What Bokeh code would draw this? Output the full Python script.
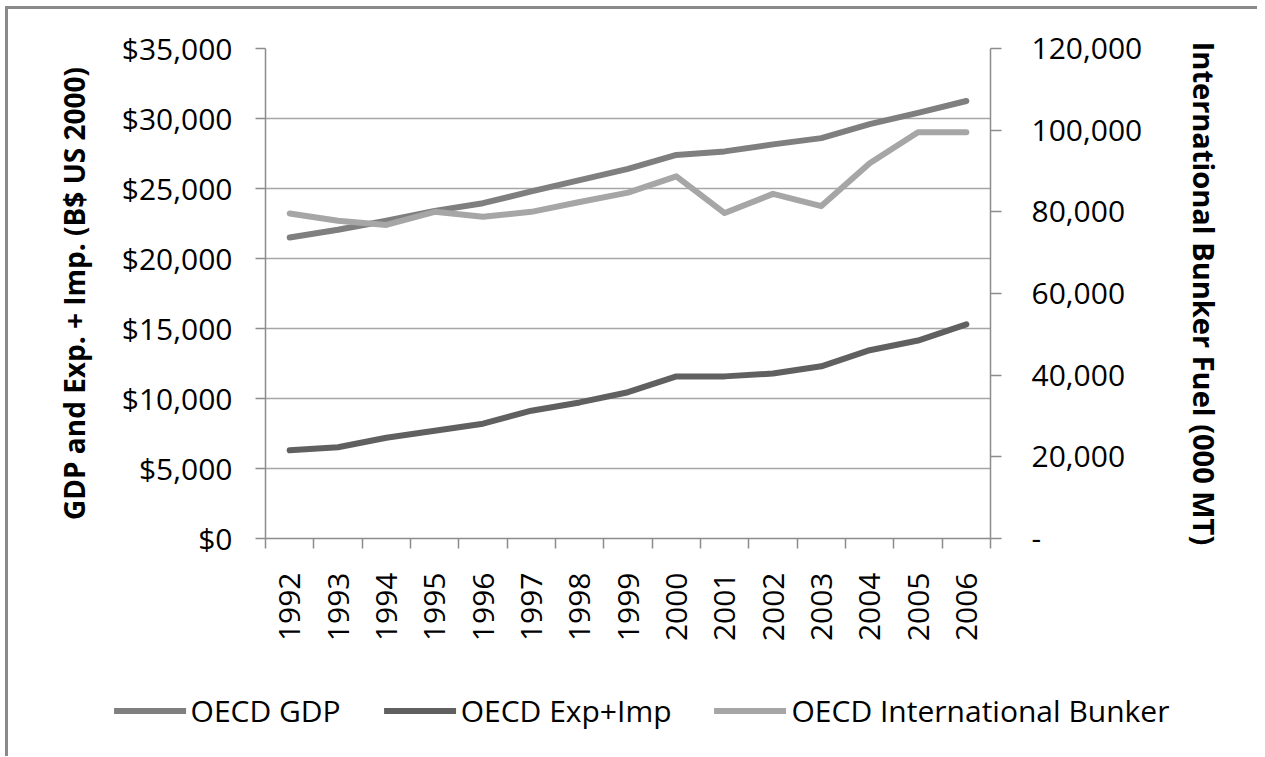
import math
from bokeh.plotting import figure
from bokeh.models import (Range1d, LinearAxis, FixedTicker, NumeralTickFormatter,
                          Legend, LegendItem)
from bokeh.embed import file_html
from bokeh.resources import INLINE

# ---- data ----
years = ["1992", "1993", "1994", "1995", "1996", "1997", "1998", "1999",
         "2000", "2001", "2002", "2003", "2004", "2005", "2006"]
gdp = [21500, 22050, 22700, 23400, 23950, 24800, 25600, 26400,
       27400, 27650, 28150, 28600, 29600, 30400, 31250]
exp_imp = [6300, 6520, 7200, 7700, 8200, 9130, 9720, 10450,
           11580, 11580, 11780, 12300, 13450, 14140, 15300]
bunker = [79600, 77800, 76800, 80000, 78800, 80000, 82400, 84700,
          88700, 79700, 84400, 81400, 91900, 99500, 99500]
left_ticks = [0, 5000, 10000, 15000, 20000, 25000, 30000, 35000]
right_ticks = [0, 20000, 40000, 60000, 80000, 100000, 120000]
series_names = ["OECD GDP", "OECD Exp+Imp", "OECD International Bunker"]
series_colors = ["#7f7f7f", "#606060", "#a6a6a6"]

FONT = "Open Sans"
AXIS_GRAY = "#8c8c8c"
GRID_GRAY = "#a6a6a6"
BORDER = "3px solid #8a8a8a"
TICK_SIZE = "30px"

x = list(range(len(years)))

p = figure(width=1249, height=671, frame_width=725, frame_height=490,
           min_border_left=257, min_border_top=39, min_border_right=267,
           min_border_bottom=142,
           x_range=Range1d(-0.5, len(years) - 0.5),
           y_range=Range1d(left_ticks[0], left_ticks[-1]),
           output_backend="svg", toolbar_location=None)
p.styles = {"margin-left": "5px", "margin-top": "6px",
            "border-left": BORDER, "border-top": BORDER}
p.outline_line_color = None
p.background_fill_color = "white"
p.border_fill_color = "white"

p.extra_y_ranges = {"bunker": Range1d(right_ticks[0], right_ticks[-1])}

# ---- x axis ----
xa = p.xaxis[0]
xa.ticker = FixedTicker(ticks=x, minor_ticks=[i - 0.5 for i in range(len(years) + 1)])
xa.major_label_overrides = {i: y for i, y in zip(x, years)}
xa.major_label_orientation = math.pi / 2
xa.major_tick_out = 0
xa.major_tick_in = 0
xa.minor_tick_out = 10
xa.minor_tick_in = 0
xa.minor_tick_line_color = AXIS_GRAY
xa.minor_tick_line_width = 1.5
xa.axis_line_color = AXIS_GRAY
xa.axis_line_width = 1.5
xa.major_label_standoff = 24
xa.major_label_text_font = FONT
xa.major_label_text_font_size = TICK_SIZE
xa.major_label_text_color = "black"
p.xgrid.visible = False

# ---- left axis ----
ya = p.yaxis[0]
ya.ticker = FixedTicker(ticks=left_ticks)
ya.formatter = NumeralTickFormatter(format="$0,0")
ya.minor_tick_line_color = None
ya.major_tick_out = 10
ya.major_tick_in = 0
ya.major_tick_line_color = AXIS_GRAY
ya.major_tick_line_width = 1.5
ya.axis_line_color = AXIS_GRAY
ya.axis_line_width = 1.5
ya.major_label_standoff = 23
ya.major_label_text_font = FONT
ya.major_label_text_font_size = TICK_SIZE
ya.major_label_text_color = "black"
ya.axis_label = "GDP and Exp. + Imp. (B$ US 2000)"
ya.axis_label_text_font = FONT
ya.axis_label_text_font_style = "bold"
ya.axis_label_text_font_size = "28px"
ya.axis_label_text_color = "black"
ya.axis_label_standoff = 26
p.ygrid.grid_line_color = GRID_GRAY
p.ygrid.grid_line_width = 1.5

# ---- right axis ----
ra = LinearAxis(y_range_name="bunker", ticker=FixedTicker(ticks=right_ticks),
                formatter=NumeralTickFormatter(format="0,0"))
ra.major_label_overrides = {0: "-"}
ra.minor_tick_line_color = None
ra.major_tick_out = 11
ra.major_tick_in = 0
ra.major_tick_line_color = AXIS_GRAY
ra.major_tick_line_width = 1.5
ra.axis_line_color = AXIS_GRAY
ra.axis_line_width = 1.5
ra.major_label_standoff = 30
ra.major_label_text_font = FONT
ra.major_label_text_font_size = TICK_SIZE
ra.major_label_text_color = "black"
ra.axis_label = "International Bunker Fuel (000 MT)"
ra.axis_label_text_font = FONT
ra.axis_label_text_font_style = "bold"
ra.axis_label_text_font_size = "29px"
ra.axis_label_text_color = "black"
ra.axis_label_standoff = 40
p.add_layout(ra, "right")

# ---- series ----
LINE = dict(line_width=6, line_cap="round", line_join="round")
p.line(x, gdp, line_color=series_colors[0], **LINE)
p.line(x, exp_imp, line_color=series_colors[1], **LINE)
p.line(x, bunker, y_range_name="bunker", line_color=series_colors[2], **LINE)

# ---- legend strip: a separate root so that nothing clips the wide legend ----
lg = figure(width=1249, height=76, min_border_left=18, min_border_right=0,
            min_border_top=0, min_border_bottom=16,
            x_range=Range1d(100, 101), y_range=Range1d(0, 1),
            output_backend="svg", toolbar_location=None)
lg.styles = {"margin-left": "5px", "border-left": BORDER}
lg.axis.visible = False
lg.grid.visible = False
lg.outline_line_color = None
lg.background_fill_color = "white"
lg.border_fill_color = "white"
items = []
for name, col, vals in zip(series_names, series_colors, [gdp, exp_imp, bunker]):
    r = lg.line(x, vals, line_color=col, **LINE)  # outside this strip's view
    items.append(LegendItem(label=name, renderers=[r]))
legend = Legend(items=items, orientation="horizontal", location="center",
                glyph_width=72, glyph_height=20, label_standoff=5,
                spacing=43, padding=0, margin=0,
                border_line_color=None, background_fill_alpha=0,
                label_text_font=FONT, label_text_font_size="30px",
                label_text_color="black")
lg.add_layout(legend, "center")

open("out.html", "w").write(file_html([p, lg], INLINE))
